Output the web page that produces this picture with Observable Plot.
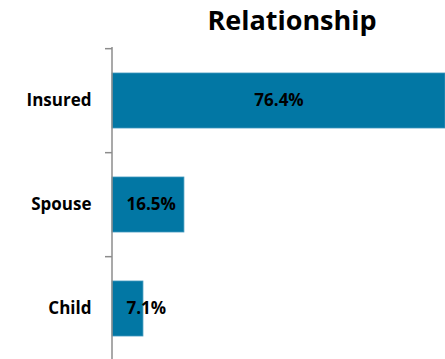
<!DOCTYPE html>
<html>
<head>
<meta charset="utf-8">
<script src="https://cdn.jsdelivr.net/npm/d3@7"></script>
<script src="https://cdn.jsdelivr.net/npm/@observablehq/plot@0.6"></script>
<style>
  html, body { margin: 0; padding: 0; background: #fff; }
  #wrap { position: relative; width: 445px; height: 359px; overflow: hidden; }
  #title { position: absolute; left: 0; width: 584px; top: 0px; text-align: center; line-height: 40px;
           font-family: "Open Sans", Lato, sans-serif; font-weight: bold; font-size: 27px; color: #000; }
  svg { position: absolute; left: 0; top: 0; }
</style>
</head>
<body>
<div id="wrap"><div id="title">Relationship</div></div>
<script>
const titleText = "Relationship";
const categories = ["Insured", "Spouse", "Child"];
const values = [76.4, 16.5, 7.1];
const labels = ["76.4%", "16.5%", "7.1%"];

const data = categories.map((c, i) => ({category: c, value: values[i], label: labels[i]}));
const font = "'Open Sans', Lato, sans-serif";
const yRange = [47, 361];
const step = (yRange[1] - yRange[0]) / categories.length;

const chart = Plot.plot({
  width: 445,
  height: 359,
  marginLeft: 112,
  marginRight: 0,
  marginTop: 47,
  marginBottom: 0,
  style: {fontFamily: font, fontWeight: "bold", fontSize: "17px", color: "#000", background: "transparent"},
  x: {domain: [0, d3.max(values)], axis: null},
  y: {domain: categories, range: yRange, paddingInner: 0.475, paddingOuter: 0.2375},
  marks: [
    Plot.barX(data, {x: "value", y: "category", fill: "#0277a4", stroke: "#3f97bd", strokeWidth: 0.8}),
    Plot.axisY({tickSize: 0, tickPadding: 21, fontSize: 17, fontWeight: "bold", fill: "#000", label: null}),
    Plot.axisY({tickSize: 7, text: null, dy: -step / 2, stroke: "#8c8c8c", strokeWidth: 1.5, label: null}),
    Plot.ruleX([0], {stroke: "#8c8c8c", strokeWidth: 1.5, dx: -0.5}),
    Plot.text(data.filter((d, i) => i === 0), {x: d => d.value / 2, y: "category", text: "label", fontSize: 17, fontWeight: "bold", fill: "#000", textAnchor: "middle"}),
    Plot.text(data.filter((d, i) => i > 0), {x: 0, y: "category", text: "label", dx: 14, fontSize: 17, fontWeight: "bold", fill: "#000", textAnchor: "start"})
  ]
});
document.getElementById("wrap").appendChild(chart);
document.getElementById("title").textContent = titleText;
</script>
</body>
</html>
